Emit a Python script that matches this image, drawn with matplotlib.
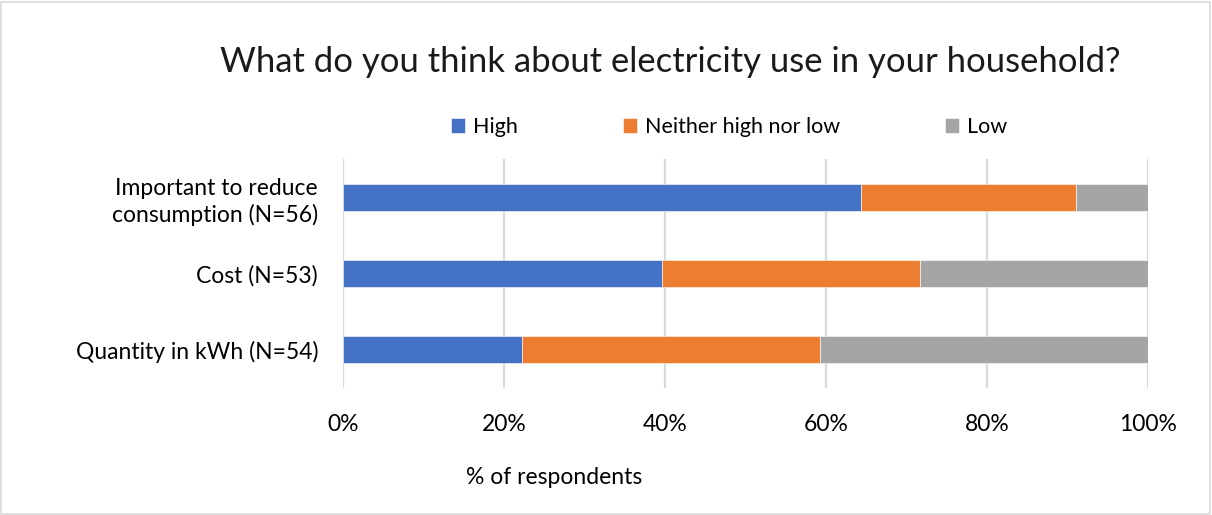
import matplotlib
matplotlib.use("Agg")
import matplotlib.pyplot as plt
import numpy as np

plt.rcParams['font.family'] = ['Lato', 'DejaVu Sans']

categories = ['Important to reduce\nconsumption (N=56)', 'Cost (N=53)', 'Quantity in kWh (N=54)']
n_resp = np.array([56, 53, 54])
high = np.array([36, 21, 12])
neither = np.array([15, 17, 20])
low = np.array([5, 15, 22])
series = ['High', 'Neither high nor low', 'Low']
colors = ['#4472c4', '#ed7d31', '#a5a5a5']
xticks = [0, 0.2, 0.4, 0.6, 0.8, 1.0]
xtick_labels = ['0%', '20%', '40%', '60%', '80%', '100%']

fig = plt.figure(figsize=(12.12, 5.15), dpi=100)
ax = fig.add_axes([343 / 1212, 1 - 388 / 515, 805 / 1212, 229 / 515])

y = np.arange(len(categories))
left = np.zeros(len(categories))
for vals, name, c in zip([high, neither, low], series, colors):
    share = vals / n_resp
    ax.barh(y, share, left=left, height=0.35, color=c, label=name,
            edgecolor='white', linewidth=0.4, zorder=3)
    left += share

ax.set_ylim(2.5, -0.5)
ax.set_xlim(0, 1)
ax.set_yticks(y)
ax.set_yticklabels(categories, fontsize=16.5, ha='right', linespacing=1.3)
ax.set_xticks(xticks)
ax.set_xticklabels(xtick_labels, fontsize=16.5)
ax.tick_params(length=0, axis='y', pad=18)
ax.tick_params(length=0, axis='x', pad=19)
ax.grid(axis='x', color='#d9d9d9', linewidth=1.6, zorder=0)
for s in ax.spines.values():
    s.set_visible(False)

fig.text(670 / 1212, 1 - 62 / 515, 'What do you think about electricity use in your household?',
         fontsize=24.9, ha='center', va='center', color='#1a1a1a')
fig.text(554 / 1212, 1 - 477 / 515, '% of respondents', fontsize=16.5, ha='center', va='center')

fig.legend(loc='center', bbox_to_anchor=(729 / 1212, 1 - 127 / 515), ncol=3, frameon=False,
           fontsize=15.5, handlelength=0.65, handleheight=0.65, handletextpad=0.35,
           columnspacing=4.9)

# thin frame around the chart area
fig.patches.append(plt.Rectangle((0.001, 0.001), 0.997, 0.996, transform=fig.transFigure,
                                 fill=False, edgecolor='#d9d9d9', linewidth=1.2))

fig.savefig('out.png', dpi=100)
